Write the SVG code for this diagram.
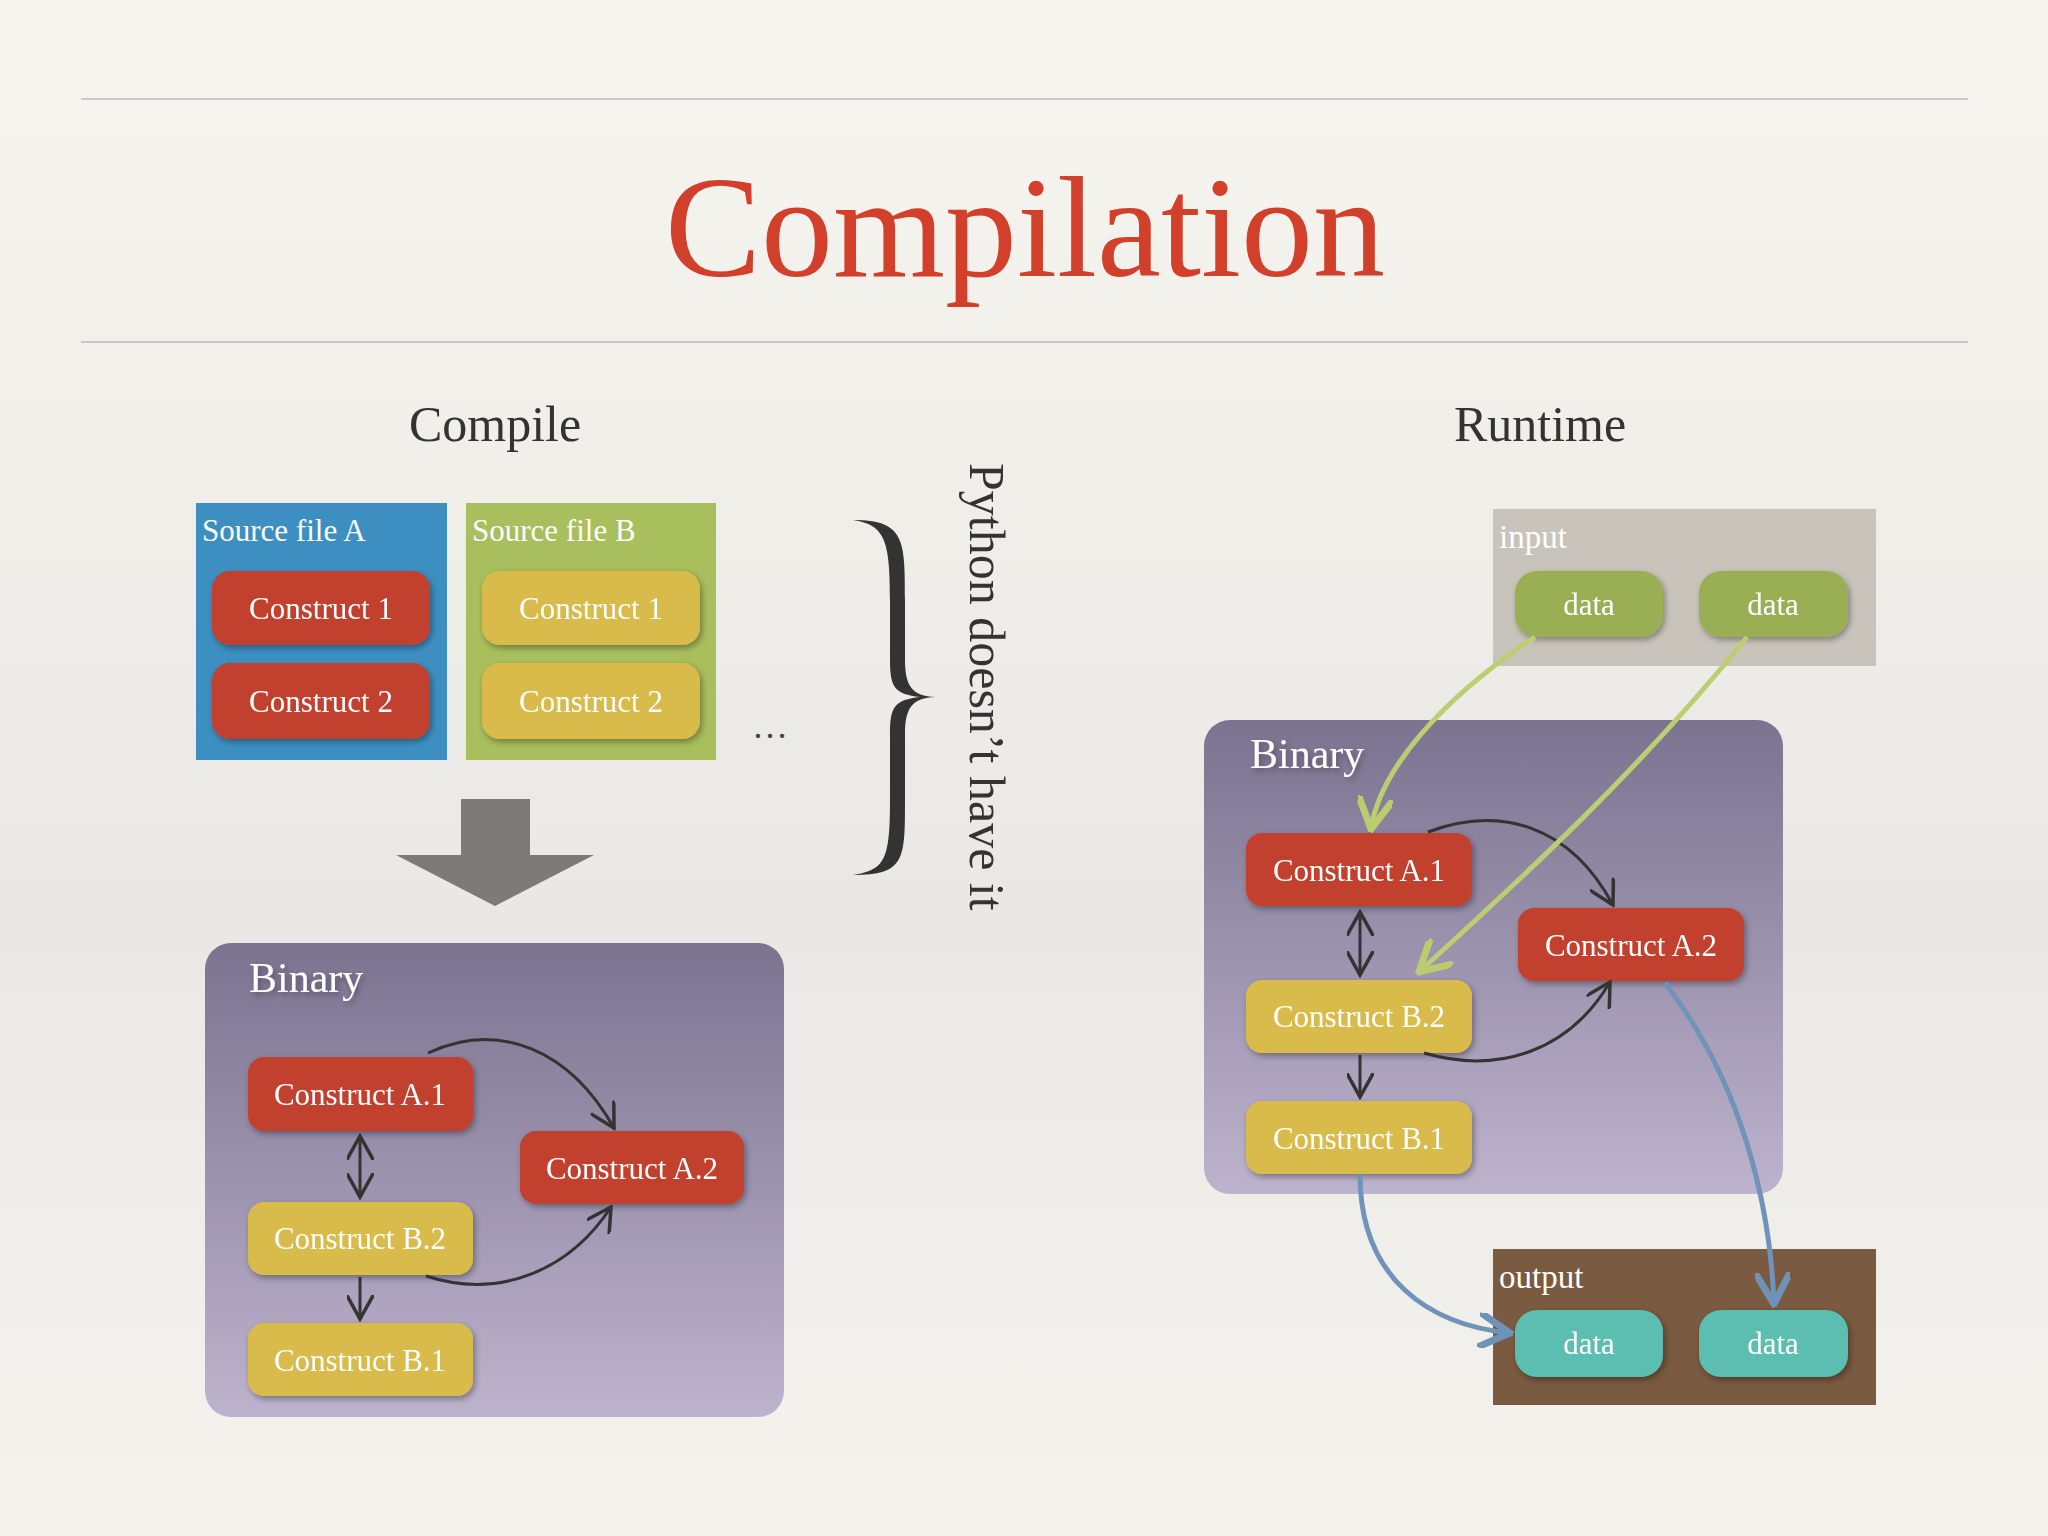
<svg xmlns="http://www.w3.org/2000/svg" width="2048" height="1536" viewBox="0 0 2048 1536">
<defs>
<linearGradient id="bg" x1="0" y1="0" x2="0" y2="1"><stop offset="0" stop-color="#f7f5ef"/><stop offset="0.6" stop-color="#e9e8e4"/><stop offset="1" stop-color="#f5f3ee"/></linearGradient>
<linearGradient id="bin" x1="0" y1="0" x2="0" y2="1"><stop offset="0" stop-color="#7c7390"/><stop offset="1" stop-color="#bdb3cd"/></linearGradient>
<filter id="sh" x="-10%" y="-10%" width="130%" height="140%"><feDropShadow dx="2" dy="3" stdDeviation="3" flood-opacity="0.35"/></filter>
<marker id="ad" viewBox="0 0 10 10" refX="9" refY="5" markerWidth="9" markerHeight="9" orient="auto-start-reverse"><path d="M0,0 L9,5 L0,10" fill="none" stroke="#333" stroke-width="1.3"/></marker>
<marker id="ag" viewBox="0 0 10 10" refX="9" refY="5" markerWidth="7" markerHeight="7" orient="auto"><path d="M0,0 L9,5 L0,10" fill="none" stroke="#b9cc6e" stroke-width="2"/></marker>
<marker id="ab" viewBox="0 0 10 10" refX="9" refY="5" markerWidth="7" markerHeight="7" orient="auto"><path d="M0,0 L9,5 L0,10" fill="none" stroke="#6f92b8" stroke-width="2"/></marker>
</defs>
<style>
text{font-family:"Liberation Serif","DejaVu Serif",serif}
.lbl{font-size:31px;fill:#fff;text-anchor:middle}
.hd{font-size:50px;fill:#333;text-anchor:middle}
.red{fill:#c1402f}.yel{fill:#d9bb4c}
.dk{fill:none;stroke:#333;stroke-width:3}
.gr{fill:none;stroke:#bcce72;stroke-width:5}
.bl{fill:none;stroke:#7093b9;stroke-width:5}
.node{filter:url(#sh)}
</style>
<rect width="2048" height="1536" fill="url(#bg)"/>
<line x1="81" y1="99" x2="1968" y2="99" stroke="#bbb" stroke-width="1.5"/>
<line x1="81" y1="342" x2="1968" y2="342" stroke="#bbb" stroke-width="1.5"/>
<text x="1025" y="276" font-size="144" fill="#d23f2a" text-anchor="middle">Compilation</text>
<text class="hd" x="495" y="441">Compile</text>
<text class="hd" x="1540" y="441">Runtime</text>

<g id="srcA"><rect x="196" y="503" width="251" height="257" fill="#3d8fc2"/><text x="202" y="541" font-size="31" fill="#fff">Source file A</text></g>
<g id="a1" class="node"><rect class="red" x="212" y="571" width="218" height="74" rx="18"/><text class="lbl" x="321" y="619">Construct 1</text></g>
<g id="a2" class="node"><rect class="red" x="212" y="663" width="218" height="76" rx="18"/><text class="lbl" x="321" y="712">Construct 2</text></g>
<g id="srcB"><rect x="466" y="503" width="250" height="257" fill="#a9be5c"/><text x="472" y="541" font-size="31" fill="#fff">Source file B</text></g>
<g id="b1" class="node"><rect class="yel" x="482" y="571" width="218" height="74" rx="18"/><text class="lbl" x="591" y="619">Construct 1</text></g>
<g id="b2" class="node"><rect class="yel" x="482" y="663" width="218" height="76" rx="18"/><text class="lbl" x="591" y="712">Construct 2</text></g>
<text x="770" y="738" font-size="36" fill="#444" text-anchor="middle">…</text>
<path d="M461,799 H530 V855 H594 L495,906 L396,855 H461 Z" fill="#7c7b79"/>
<path d="M853,520 C905,520 905,540 905,600 L905,660 C905,690 915,697 940,697 C915,697 905,704 905,734 L905,800 C905,860 905,875 853,875 C885,870 890,860 890,800 L890,734 C890,706 895,700 920,697 C895,694 890,688 890,660 L890,600 C890,540 885,525 853,520 Z" fill="#333"/>
<text x="0" y="0" font-size="50" fill="#333" transform="translate(970,463) rotate(90)">Python doesn’t have it</text>

<g id="binL"><rect x="205" y="943" width="579" height="474" rx="26" fill="url(#bin)"/><text x="249" y="992" font-size="42" fill="#fff" filter="url(#sh)">Binary</text></g>
<g id="LA1" class="node"><rect class="red" x="248" y="1057" width="225" height="74" rx="16"/><text class="lbl" x="360" y="1105">Construct A.1</text></g>
<g id="LA2" class="node"><rect class="red" x="520" y="1131" width="224" height="73" rx="16"/><text class="lbl" x="632" y="1179">Construct A.2</text></g>
<g id="LB2" class="node"><rect class="yel" x="248" y="1202" width="225" height="73" rx="16"/><text class="lbl" x="360" y="1249">Construct B.2</text></g>
<g id="LB1" class="node"><rect class="yel" x="248" y="1323" width="225" height="73" rx="16"/><text class="lbl" x="360" y="1371">Construct B.1</text></g>

<g id="input"><rect x="1493" y="509" width="383" height="157" fill="#c9c4bb"/><text x="1499" y="548" font-size="33" fill="#fff">input</text></g>
<g id="in1" class="node"><rect x="1515" y="571" width="148" height="66" rx="22" fill="#9aae53"/><text class="lbl" x="1589" y="615">data</text></g>
<g id="in2" class="node"><rect x="1699" y="571" width="149" height="66" rx="22" fill="#9aae53"/><text class="lbl" x="1773" y="615">data</text></g>
<g id="binR"><rect x="1204" y="720" width="579" height="474" rx="26" fill="url(#bin)"/><text x="1250" y="768" font-size="42" fill="#fff" filter="url(#sh)">Binary</text></g>
<g id="RA1" class="node"><rect class="red" x="1246" y="833" width="226" height="73" rx="16"/><text class="lbl" x="1359" y="881">Construct A.1</text></g>
<g id="RA2" class="node"><rect class="red" x="1518" y="908" width="226" height="73" rx="16"/><text class="lbl" x="1631" y="956">Construct A.2</text></g>
<g id="RB2" class="node"><rect class="yel" x="1246" y="980" width="226" height="73" rx="16"/><text class="lbl" x="1359" y="1027">Construct B.2</text></g>
<g id="RB1" class="node"><rect class="yel" x="1246" y="1101" width="226" height="73" rx="16"/><text class="lbl" x="1359" y="1149">Construct B.1</text></g>
<g id="output"><rect x="1493" y="1249" width="383" height="156" fill="#7a5a40"/><text x="1499" y="1288" font-size="33" fill="#fff">output</text></g>
<g id="out1" class="node"><rect x="1515" y="1310" width="148" height="67" rx="22" fill="#5cbdb1"/><text class="lbl" x="1589" y="1354">data</text></g>
<g id="out2" class="node"><rect x="1699" y="1310" width="149" height="67" rx="22" fill="#5cbdb1"/><text class="lbl" x="1773" y="1354">data</text></g>

<g id="connectors">
<line class="dk" x1="360" y1="1136" x2="360" y2="1197" marker-start="url(#ad)" marker-end="url(#ad)"/>
<line class="dk" x1="360" y1="1277" x2="360" y2="1319" marker-end="url(#ad)"/>
<path class="dk" d="M428,1053 C500,1020 570,1050 614,1128" marker-end="url(#ad)"/>
<path class="dk" d="M426,1276 C500,1300 570,1270 611,1207" marker-end="url(#ad)"/>
<line class="dk" x1="1360" y1="912" x2="1360" y2="975" marker-start="url(#ad)" marker-end="url(#ad)"/>
<line class="dk" x1="1360" y1="1055" x2="1360" y2="1097" marker-end="url(#ad)"/>
<path class="dk" d="M1428,832 C1500,805 1570,825 1613,905" marker-end="url(#ad)"/>
<path class="dk" d="M1424,1053 C1500,1075 1570,1050 1610,982" marker-end="url(#ad)"/>
<path class="gr" d="M1535,637 C1440,700 1380,770 1371,829" marker-end="url(#ag)"/>
<path class="gr" d="M1747,637 C1640,770 1520,880 1419,972" marker-end="url(#ag)"/>
<path class="bl" d="M1360,1174 C1360,1280 1430,1325 1510,1333" marker-end="url(#ab)"/>
<path class="bl" d="M1665,983 C1740,1080 1770,1200 1774,1304" marker-end="url(#ab)"/>
</g>
</svg>
